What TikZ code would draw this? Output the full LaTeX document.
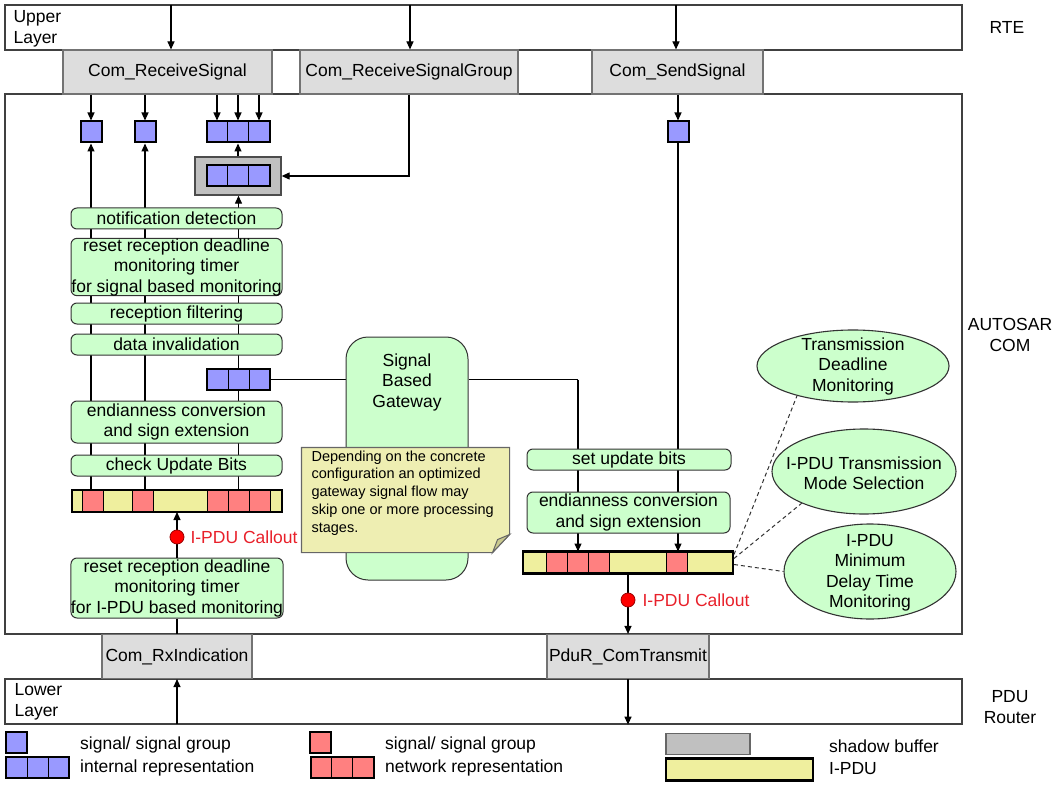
\documentclass[tikz,border=0pt]{standalone}
\usepackage{fontspec}
\setmainfont{Liberation Sans}
\usetikzlibrary{shapes.geometric,arrows.meta,calc}
\pgfdeclarelayer{bg}
\pgfsetlayers{bg,main}
\definecolor{sigblue}{HTML}{9999FF}
\definecolor{sigred}{HTML}{FF8080}
\definecolor{pduyellow}{HTML}{EFEF9E}
\definecolor{procgreen}{HTML}{CCFFCC}
\definecolor{funcgray}{HTML}{DDDDDD}
\definecolor{shadowgray}{HTML}{C0C0C0}
\definecolor{notefill}{HTML}{EEEEB2}
\definecolor{notefold}{HTML}{C9C98F}
\definecolor{calloutred}{HTML}{E8202A}
\begin{document}
\begin{tikzpicture}[x=1pt,y=-1pt, font=\fontsize{17.5}{20.5}\selectfont, line width=1.1pt,
  layer/.style={draw=black!75, line width=1.3pt, inner sep=0, minimum width=957, minimum height=45},
  func/.style={draw=black!55, fill=funcgray, line width=1.1pt, inner sep=0, minimum height=44},
  proc/.style={draw=black!80, fill=procgreen, rounded corners=6, line width=1pt, inner sep=0, align=center},
  sig/.style={draw=black, fill=sigblue, line width=2pt, inner sep=0, minimum width=21, minimum height=21},
  sigthree/.style={sig, minimum width=63, path picture={
    \foreach \f in {0.3333,0.6667}{\draw[line width=0.9pt,black]
      ($(path picture bounding box.north west)!\f!(path picture bounding box.north east)$) --
      ($(path picture bounding box.south west)!\f!(path picture bounding box.south east)$);}}},
  netsig/.style={sig, fill=sigred},
  netthree/.style={sigthree, fill=sigred},
  pdubar/.style={fill=pduyellow, draw=black, line width=2.2pt, inner sep=0, outer sep=0, minimum height=22, minimum width=210},
  cell/.style={fill=sigred, draw=black, line width=0.8pt},
  barborder/.style={draw=black, line width=2.2pt},
  arr/.style={-{Triangle[length=8pt,width=7pt]}, line width=1.1pt},
  dot/.style={circle, fill=red, draw=red!60!black, line width=0.8pt, minimum size=14, inner sep=0},
  callout/.style={text=calloutred, anchor=west, inner sep=0},
  mon/.style={ellipse, draw=black!80, fill=procgreen, line width=1.1pt, inner sep=0},
  txt/.style={inner sep=0, align=center},
  monlink/.style={draw=black!80, line width=1pt, dash pattern=on 4pt off 3pt},
  shadowbox/.style={fill=shadowgray, draw=black!70, line width=1.3pt, inner sep=0}
]
\useasboundingbox (0,0) rectangle (1057,786);

% layers
\node[layer] (upper) at (483.5,27.5) {};
\node[layer, minimum height=540] (autosar) at (483.5,364) {};
\node[layer] (lower) at (483.5,701.5) {};
\node[txt, anchor=west, align=left] (ulbl) at (13,29) {Upper\\Layer};
\node[txt, anchor=west, align=left] (llbl) at (14,702) {Lower\\Layer};
\node[txt] (rte) at (1007,27) {RTE};
\node[txt] (acom) at (1010,335) {AUTOSAR\\COM};
\node[txt] (pdurlbl) at (1010,707) {PDU\\Router};

% API boxes
\node[func, minimum width=209] (recv) at (167.5,72) {Com\_ReceiveSignal};
\node[func, minimum width=218] (recvgrp) at (409,72) {Com\_ReceiveSignalGroup};
\node[func, minimum width=171] (send) at (677.5,72) {Com\_SendSignal};
\node[func, minimum width=150] (rx) at (177,656.5) {Com\_RxIndication};
\node[func, minimum width=162] (pdur) at (628,656.5) {PduR\_ComTransmit};

\coordinate (ua1) at (171,5);
\coordinate (ua2) at (410,5);
\coordinate (ua3) at (676,5);
\draw[arr] (ua1) -- (ua1 |- recv.north);
\draw[arr] (ua2) -- (ua2 |- recvgrp.north);
\draw[arr] (ua3) -- (ua3 |- send.north);

% signal buffers
\node[sig] (s1) at (91,132) {};
\node[sig] (s2) at (145,132) {};
\node[sigthree] (g1) at (238,132) {};
\node[sig] (s3) at (678,132) {};
\node[shadowbox, minimum width=86, minimum height=38] (shadow) at (238,176) {};
\node[sigthree] (g1s) at (238,176) {};

\draw[arr] (s1 |- recv.south) -- (s1.north);
\draw[arr] (s2 |- recv.south) -- (s2.north);
\foreach \dx in {-21,0,21}
  \draw[arr] ($(recv.south -| g1.north)+(\dx,0)$) -- ($(g1.north)+(\dx,0)$);
\draw[arr] (recvgrp.south) |- (shadow.east);
\draw[arr] (shadow.north) -- (g1.south);
\draw[arr] (s3.north |- send.south) -- (s3.north);

% receive path
\node[proc, minimum width=211, minimum height=21] (nd) at (176.5,218.5) {notification detection};
\node[proc, minimum width=211, minimum height=56] (rr1) at (176.5,267) {reset reception deadline\\monitoring timer\\for signal based monitoring};
\node[proc, minimum width=211, minimum height=21] (rf) at (176.5,313.5) {reception filtering};
\node[proc, minimum width=211, minimum height=21] (di) at (176.5,344.5) {data invalidation};
\node[sigthree] (g2) at (238.5,379.5) {};
\node[proc, minimum width=211, minimum height=42] (ec1) at (176.5,422) {endianness conversion\\and sign extension};
\node[proc, minimum width=211, minimum height=21] (cub) at (176.5,465.5) {check Update Bits};
\node[pdubar] (bar1) at (177,501) {};
\foreach \a/\b in {10/31,60/81,135/156,156/177,177/198}
  \filldraw[cell] ($(bar1.north west)+(\a,0)$) rectangle ($(bar1.south west)+(\b,0)$);
\draw[barborder] (bar1.north west) rectangle (bar1.south east);
\node[proc, minimum width=210, minimum height=60] (rr2) at (177,588) {reset reception deadline\\monitoring timer\\for I-PDU based monitoring};

\draw[arr] (rr2.north) -- (bar1.south);
\node[dot] (dot1) at (177,537) {};
\node[callout] (co1) at (190,537) {I-PDU Callout};
\draw (rr2.south) -- (rx.north);
\coordinate (lw1) at (177,724);
\draw[arr] (lw1) -- (rx.south);

% gateway
\node[proc, rounded corners=22, minimum width=122, minimum height=243] (gw) at (407,458.5) {};
\node[txt] (gwlbl) at (407,382) {Signal\\Based\\Gateway};

% note
\node[inner sep=0, minimum width=207, minimum height=104] (note) at (405.5,500) {};
\filldraw[fill=notefill, draw=black!60, line width=1.1pt] (note.north west) -- (note.north east) -- ($(note.south east)+(0,-18)$) -- ($(note.south east)+(-17,0)$) -- (note.south west) -- cycle;
\filldraw[fill=notefold, draw=black!60, line width=1pt] ($(note.south east)+(0,-18)$) -- ($(note.south east)+(-12,-13)$) -- ($(note.south east)+(-17,0)$) -- cycle;
\node[txt, anchor=north west, align=left, font=\fontsize{14.5}{17.8}\selectfont] (notetxt) at (311,450) {Depending on the concrete\\configuration an optimized\\gateway signal flow may\\skip one or more processing\\stages.};

% transmit path
\node[proc, minimum width=204, minimum height=21] (sub) at (629,459.5) {set update bits};
\node[proc, minimum width=203, minimum height=41] (ec2) at (628.5,512.5) {endianness conversion\\and sign extension};
\node[pdubar] (bar2) at (628,562.5) {};
\foreach \a/\b in {23/44,44/65,65/86,143/164}
  \filldraw[cell] ($(bar2.north west)+(\a,0)$) rectangle ($(bar2.south west)+(\b,0)$);
\draw[barborder] (bar2.north west) rectangle (bar2.south east);
\draw[arr] (bar2.south) -- (pdur.north);
\node[dot] (dot2) at (628,600) {};
\node[callout] (co2) at (642,600) {I-PDU Callout};
\draw[arr] (pdur.south) -- (pdur.south |- lower.south);

% monitoring ellipses
\node[mon, minimum width=192, minimum height=72] (e1) at (853,366) {};
\node[txt] (e1t) at (e1) {Transmission\\Deadline\\Monitoring};
\node[mon, minimum width=184, minimum height=85] (e2) at (864,471.5) {};
\node[txt] (e2t) at (864,473) {I-PDU Transmission\\Mode Selection};
\node[mon, minimum width=172, minimum height=95] (e3) at (870,571.5) {};
\node[txt] (e3t) at (870,573) {I-PDU\\Minimum\\Delay Time\\Monitoring};
\draw[monlink] ($(bar2.east)+(1,-8)$) -- (e1.208);
\draw[monlink] ($(bar2.east)+(1,-4)$) -- (e2.207);
\draw[monlink] ($(bar2.east)+(1,2)$) -- (e3.west);

% lines behind boxes
\coordinate (cL) at (578,379.5);
\begin{pgfonlayer}{bg}
\draw[arr] (s1 |- bar1.north) -- (s1.south);
\draw[arr] (s2 |- bar1.north) -- (s2.south);
\draw (g2 |- bar1.north) -- (g2.south);
\draw[arr] (g2.north) -- (g2.north |- shadow.south);
\draw (g2.east) -- (g2.east -| gw.west);
\draw (gw.east |- cL) -- (cL);
\draw[arr] (cL) -- (cL |- bar2.north);
\draw[arr] (s3.south) -- (s3.south |- bar2.north);
\end{pgfonlayer}

% legend
\node[sig] (lb1) at (16.5,742.5) {};
\node[sigthree] (lb3) at (37.5,767.5) {};
\node[txt, anchor=west] (lbt1) at (80,745) {signal/ signal group};
\node[txt, anchor=west] (lbt2) at (80,767.5) {internal representation};
\node[netsig] (lr1) at (320.5,742.5) {};
\node[netthree] (lr3) at (342,767.5) {};
\node[txt, anchor=west] (lrt1) at (385,745) {signal/ signal group};
\node[txt, anchor=west] (lrt2) at (385,767.5) {network representation};
\node[shadowbox, draw=black!60, line width=1.1pt, minimum width=84, minimum height=21] (lgsh) at (708,744) {};
\node[pdubar, minimum width=147] (lgpdu) at (739.5,769.5) {};
\node[txt, anchor=west] (lgsht) at (829,746) {shadow buffer};
\node[txt, anchor=west] (lgpdut) at (829,769) {I-PDU};
\end{tikzpicture}
\end{document}
